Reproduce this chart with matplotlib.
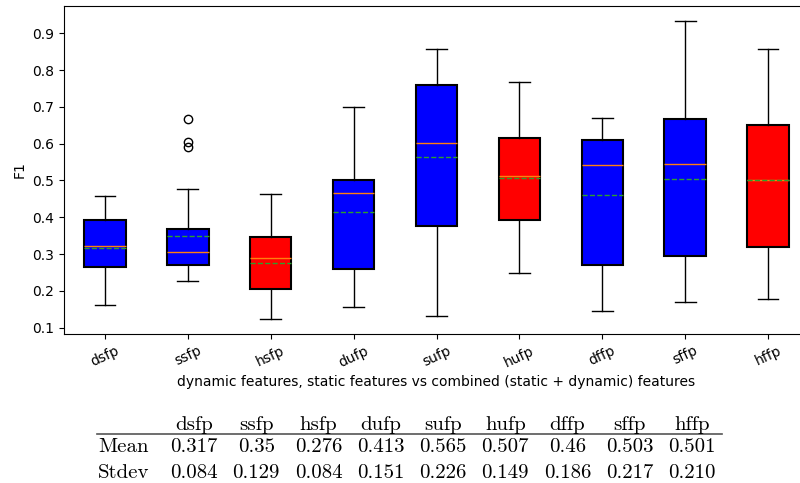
import numpy as np
import matplotlib
matplotlib.use("Agg")
import matplotlib.pyplot as plt

labels = ["dsfp", "ssfp", "hsfp", "dufp", "sufp", "hufp", "dffp", "sffp", "hffp"]
whislo = [0.162, 0.227, 0.123, 0.155, 0.132, 0.249, 0.144, 0.169, 0.178]
q1 = [0.265, 0.269, 0.206, 0.258, 0.375, 0.393, 0.271, 0.295, 0.320]
med = [0.323, 0.306, 0.290, 0.465, 0.602, 0.512, 0.541, 0.546, 0.501]
q3 = [0.393, 0.368, 0.345, 0.500, 0.760, 0.616, 0.609, 0.668, 0.652]
whishi = [0.458, 0.477, 0.462, 0.700, 0.858, 0.769, 0.669, 0.934, 0.858]
means = [0.317, 0.350, 0.276, 0.413, 0.565, 0.507, 0.460, 0.503, 0.501]
fliers = [[], [0.667, 0.606, 0.590], [], [], [], [], [], [], []]
box_colors = ["blue", "blue", "red", "blue", "blue", "red", "blue", "blue", "red"]

mean_txt = ["0.317", "0.35", "0.276", "0.413", "0.565", "0.507", "0.46", "0.503", "0.501"]
std_txt = ["0.084", "0.129", "0.084", "0.151", "0.226", "0.149", "0.186", "0.217", "0.210"]

W, H = 800, 483
fig = plt.figure(figsize=(8.0, 4.83), dpi=100)
ax = fig.add_axes([63.5 / W, 1 - 334 / H, 746 / W, 328 / H])

stats = []
for i, lab in enumerate(labels):
    stats.append(dict(label=lab, whislo=whislo[i], q1=q1[i], med=med[i], q3=q3[i],
                      whishi=whishi[i], mean=means[i], fliers=fliers[i]))

bp = ax.bxp(stats, showmeans=True, meanline=True, patch_artist=True,
            boxprops=dict(linewidth=1.5))
for patch, c in zip(bp["boxes"], box_colors):
    patch.set_facecolor(c)

ax.set_xticks(range(1, len(labels) + 1), labels, rotation=25)
ax.set_ylabel("F1")
ax.set_xlabel("dynamic features, static features vs combined (static + dynamic) features")

# LaTeX-style table under the plot (pixel layout)
cm = "cmr10"
fs = 15
col_x = np.linspace(194, 692, len(labels))
y_head, y_mean, y_std = 429.5, 451.5, 478
for x, lab, m, s in zip(col_x, labels, mean_txt, std_txt):
    fig.text(x / W, 1 - y_head / H, lab, family=cm, fontsize=fs, ha="center", va="baseline")
    fig.text(x / W, 1 - y_mean / H, m, family=cm, fontsize=fs, ha="center", va="baseline")
    fig.text(x / W, 1 - y_std / H, s, family=cm, fontsize=fs, ha="center", va="baseline")
fig.text(98 / W, 1 - y_mean / H, "Mean", family=cm, fontsize=fs, ha="left", va="baseline")
fig.text(98 / W, 1 - y_std / H, "Stdev", family=cm, fontsize=fs, ha="left", va="baseline")
fig.add_artist(plt.Line2D([97 / W, 722 / W], [1 - 434 / H] * 2, color="#555555", lw=1.2))

fig.savefig("out.png", dpi=100)
